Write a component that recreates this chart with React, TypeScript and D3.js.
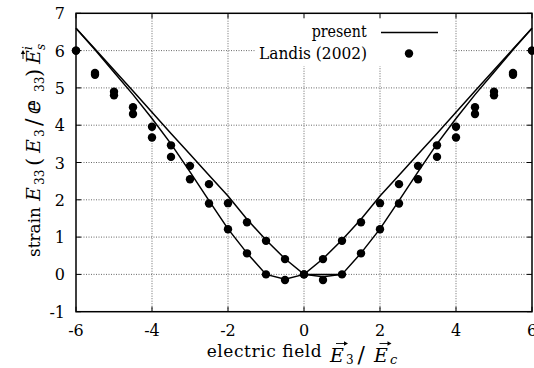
import React from 'react';
import * as d3 from 'd3';

const xTicks = [-6, -4, -2, 0, 2, 4, 6];
const yTicks = [-1, 0, 1, 2, 3, 4, 5, 6, 7];
const xGrid = [-4, -2, 0, 2, 4];
const yGrid = [0, 1, 2, 3, 4, 5, 6];

// Landis (2002) data
const landisField = [-6, -5.5, -5, -4.5, -4, -3.5, -3, -2.5, -2, -1.5, -1, -0.5, 0, 0.5, 1, 1.5, 2, 2.5, 3, 3.5, 4, 4.5, 5, 5.5, 6];
const landisBranchA = [6.0, 5.35, 4.8, 4.3, 3.67, 3.15, 2.55, 1.9, 1.21, 0.565, 0.0, -0.15, 0.0, 0.41, 0.9, 1.4, 1.91, 2.42, 2.91, 3.46, 3.96, 4.48, 4.9, 5.4, 6.0];
const landisBranchB = [6.0, 5.4, 4.9, 4.48, 3.96, 3.46, 2.91, 2.42, 1.91, 1.4, 0.9, 0.41, 0.0, -0.15, 0.0, 0.565, 1.21, 1.9, 2.55, 3.15, 3.67, 4.3, 4.8, 5.35, 6.0];

// present model
const presentField = [-6, -5.5, -5, -4.5, -4, -3.5, -3, -2.5, -2, -1.5, -1, -0.5, 0, 0.5, 1, 1.5, 2, 2.5, 3, 3.5, 4, 4.5, 5, 5.5, 6];
const presentBranchA = [6.6, 6.02, 5.42, 4.82, 4.18, 3.5, 2.75, 1.98, 1.22, 0.57, 0.0, -0.13, 0.0, 0.42, 0.92, 1.48, 2.1, 2.66, 3.22, 3.78, 4.35, 4.92, 5.48, 6.04, 6.6];
const presentBranchB = [6.6, 6.04, 5.48, 4.92, 4.35, 3.78, 3.22, 2.66, 2.1, 1.48, 0.92, 0.42, 0.0, -0.06, 0.0, 0.57, 1.22, 1.98, 2.75, 3.5, 4.18, 4.82, 5.42, 6.02, 6.6];
const presentFlatField = [0, 1];
const presentFlat = [0, 0];

const FONT = "DejaVu Serif";
const ts: React.CSSProperties = { fontFamily: FONT };
const FS = 16;

function Arrow({ x, y, len }: { x: number; y: number; len: number }) {
  return (
    <g>
      <line x1={x} x2={x + len - 2} y1={y} y2={y} stroke="#000" strokeWidth={0.9} />
      <path d={`M${x + len},${y} L${x + len - 4},${y - 2.2} L${x + len - 4},${y + 2.2} Z`} fill="#000" />
    </g>
  );
}

export default function App() {
  const x = d3.scaleLinear().domain([-6, 6]).range([76, 532]);
  const y = d3.scaleLinear().domain([-1, 7]).range([311.7, 13.3]);
  const line = d3.line<[number, number]>().x(d => x(d[0])).y(d => y(d[1]));
  const zip = (xs: number[], ys: number[]) => xs.map((v, i) => [v, ys[i]] as [number, number]);

  const x0 = x(-6), x1 = x(6), y0 = y(-1), y1 = y(7);
  const tickLen = 5;

  return (
    <svg width={534} height={368} style={{ position: 'absolute', left: 0, top: 0, background: '#fff' }}>
      {/* grid */}
      {xGrid.map(t => (
        <line key={'gx' + t} x1={x(t)} x2={x(t)} y1={y0} y2={y1} stroke="#444" strokeWidth={0.8} strokeDasharray="1,1.5" />
      ))}
      {yGrid.map(t => (
        <line key={'gy' + t} x1={x0} x2={x1} y1={y(t)} y2={y(t)} stroke="#444" strokeWidth={0.8} strokeDasharray="1,1.5" />
      ))}
      {/* legend background */}
      <rect x={255} y={y1 + 1} width={197} height={52} fill="#fff" />
      {/* ticks */}
      {xTicks.map(t => (
        <g key={'tx' + t}>
          <line x1={x(t)} x2={x(t)} y1={y0} y2={y0 - tickLen} stroke="#000" strokeWidth={1} />
          <line x1={x(t)} x2={x(t)} y1={y1} y2={y1 + tickLen} stroke="#000" strokeWidth={1} />
          <text style={ts} x={x(t)} y={336} textAnchor="middle" fontSize={FS}>{t}</text>
        </g>
      ))}
      {yTicks.map(t => (
        <g key={'ty' + t}>
          <line x1={x0} x2={x0 + tickLen} y1={y(t)} y2={y(t)} stroke="#000" strokeWidth={1} />
          <line x1={x1} x2={x1 - tickLen} y1={y(t)} y2={y(t)} stroke="#000" strokeWidth={1} />
          <text style={ts} x={65} y={y(t) + 6} textAnchor="end" fontSize={FS}>{t}</text>
        </g>
      ))}
      {/* present lines */}
      <path d={line(zip(presentField, presentBranchA)) || ''} fill="none" stroke="#000" strokeWidth={1.5} />
      <path d={line(zip(presentField, presentBranchB)) || ''} fill="none" stroke="#000" strokeWidth={1.5} />
      <path d={line(zip(presentFlatField, presentFlat)) || ''} fill="none" stroke="#000" strokeWidth={1.5} />
      {/* Landis points */}
      {landisField.map((f, i) => (
        <circle key={'a' + i} cx={x(f)} cy={y(landisBranchA[i])} r={4.2} fill="#000" />
      ))}
      {landisField.map((f, i) => (
        <circle key={'b' + i} cx={x(f)} cy={y(landisBranchB[i])} r={4.2} fill="#000" />
      ))}
      {/* frame */}
      <rect x={x0} y={y1} width={x1 - x0} height={y0 - y1} fill="none" stroke="#000" strokeWidth={1.5} />
      {/* legend */}
      <text style={ts} x={311.7} y={37} fontSize={FS} textLength={55} lengthAdjust="spacingAndGlyphs">present</text>
      <line x1={381} x2={438} y1={32.5} y2={32.5} stroke="#000" strokeWidth={1.5} />
      <text style={ts} x={259} y={59} fontSize={FS} textLength={108} lengthAdjust="spacingAndGlyphs">Landis (2002)</text>
      <circle cx={409} cy={53.5} r={4.2} fill="#000" />
      {/* x label */}
      <g style={ts}>
        <text x={206.7} y={357} fontSize={17} textLength={115} lengthAdjust="spacing">electric field</text>
        <text x={330} y={361.5} fontSize={19} fontStyle="italic">E</text>
        <Arrow x={336} y={343.5} len={12} />
        <text x={346} y={364} fontSize={12}>3</text>
        <text x={357.5} y={362} fontSize={22}>/</text>
        <text x={374} y={361.5} fontSize={19} fontStyle="italic">E</text>
        <Arrow x={379.5} y={343.5} len={12} />
        <text x={390} y={364} fontSize={13} fontStyle="italic">c</text>
      </g>
      {/* y label */}
      <g style={ts} transform="translate(40,0) rotate(-90)">
        <text x={-257} y={0} fontSize={17} textLength={50} lengthAdjust="spacing">strain</text>
        <text x={-201} y={0} fontSize={19} fontStyle="italic">E</text>
        <text x={-185} y={4} fontSize={12}>33</text>
        <text x={-166} y={1} fontSize={21}>(</text>
        <text x={-153} y={0} fontSize={19} fontStyle="italic">E</text>
        <text x={-137} y={4} fontSize={12}>3</text>
        <text x={-126} y={1} fontSize={22}>/</text>
        <text x={-114} y={0} fontSize={22}>{'\u2147'}</text>
        <text x={-92} y={4} fontSize={12}>33</text>
        <text x={-77} y={1} fontSize={21}>)</text>
        <text x={-64} y={0} fontSize={19} fontStyle="italic">E</text>
        <Arrow x={-59} y={-17} len={9} />
        <text x={-50} y={-8} fontSize={12} fontStyle="italic">i</text>
        <text x={-50} y={5} fontSize={12} fontStyle="italic">s</text>
      </g>
    </svg>
  );
}
